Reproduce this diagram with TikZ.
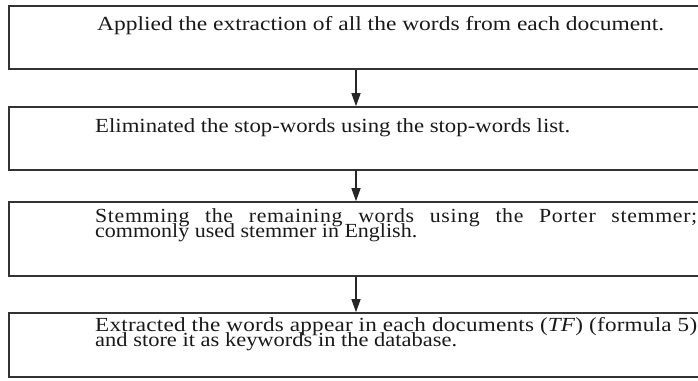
\documentclass[tikz,border=0pt]{standalone}
\usepackage{fontspec}
\setmainfont{Liberation Serif}
\usetikzlibrary{arrows.meta}
\newcommand\stepfont{\fontsize{20}{15}\selectfont}
% one line of lettering set to a given width, its height unchanged
\newcommand\fitline[2]{\resizebox{#1pt}{\height}{#2}}
% two lines on a fixed 15pt baseline distance
\newcommand\twolines[2]{\parbox[t]{620pt}{\lineskiplimit=-100pt\baselineskip=15pt #1\\#2}}
\begin{document}
\begin{tikzpicture}[x=1pt,y=-1pt,
  stepbox/.style={draw=black!80,line width=1.6pt,minimum width=694pt,inner sep=0pt},
  flow/.style={draw=black!85,line width=1.4pt,-{Triangle[width=9pt,length=13pt]}},
  txt/.style={anchor=base west,inner sep=0pt,text=black!90,font=\stepfont}]
\useasboundingbox (0,0) rectangle (698,380);

% the four processing steps
\node[stepbox,minimum height=63pt] (s1) at (356,37.5) {};
\node[stepbox,minimum height=63pt] (s2) at (356,138.5) {};
\node[stepbox,minimum height=74pt] (s3) at (356,239) {};
\node[stepbox,minimum height=64pt] (s4) at (356,345) {};

% step descriptions
\node[txt] (t1) at (97,30) {\fitline{567}{Applied the extraction of all the words from each document.}};
\node[txt] (t2) at (95,132) {\fitline{475}{Eliminated the stop-words using the stop-words list.}};
\node[txt] (t3) at (95,222) {\twolines
  {\fitline{602}{\makebox[552pt][s]{\addfontfeature{LetterSpace=3}Stemming the remaining words using the Porter stemmer;}}}
  {\fitline{322}{commonly used stemmer in English.}}};
\node[txt] (t4) at (95,331) {\twolines
  {\fitline{602}{\addfontfeature{LetterSpace=1}Extracted the words appear in each documents (\textit{TF}) (formula 5)}}
  {\fitline{362}{and store it as keywords in the database.}}};

% connectors
\draw[flow] (s1.south) -- (s2.north);
\draw[flow] (s2.south) -- (s3.north);
\draw[flow] (s3.south) -- (s4.north);
\end{tikzpicture}
\end{document}
